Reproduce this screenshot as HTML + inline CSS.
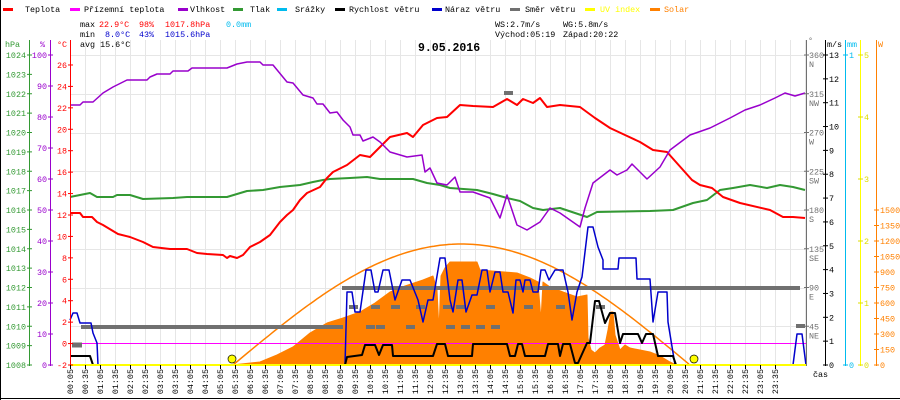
<!DOCTYPE html>
<html><head><meta charset="utf-8"><style>
html,body{margin:0;padding:0;background:#fff;width:900px;height:400px;overflow:hidden}
svg{display:block}
text{font-family:"Liberation Mono",monospace;font-size:8.4px}
</style></head><body>
<svg id="s" width="900" height="400" xmlns="http://www.w3.org/2000/svg"></svg>
<script>
var o='';
function L(x1,y1,x2,y2,c,w){o+='<line x1="'+x1+'" y1="'+y1+'" x2="'+x2+'" y2="'+y2+'" stroke="'+c+'" stroke-width="'+(w||1)+'"/>';}
function T(x,y,t,c,a,extra){o+='<text x="'+x+'" y="'+y+'" fill="'+(c||'#000')+'"'+(a?' text-anchor="'+a+'"':'')+(extra||'')+'>'+t+'</text>';}
function P(pts,c,w,fill){var s=[];for(var i=0;i<pts.length;i+=2)s.push(pts[i]+','+pts[i+1]);o+='<polyline points="'+s.join(' ')+'" fill="'+(fill||'none')+'" stroke="'+c+'" stroke-width="'+w+'" stroke-linejoin="round"/>';}
// grid
for(var x=70;x<=806;x+=15)L(x+.5,40,x+.5,365,'#e6e6e6');
for(var i=0;i<=8;i++){var y=Math.round(365-i*38.75)+.5;L(70,y,806,y,'#e6e6e6');}
// solar fill
var sol=[232,365,260,362,277,355,293,347,310,333,327,323,343,318,360,312,375,303,390,292,405,286,423,280,433,276,437,290,439,330,441,276,445,268,450,262,477,262,480,270,517,273,530,278,538,282,541,320,543,282,550,287,563,292,577,297,587,295,588,338,591,350,595,353,600,348,605,345,608,330,611,312,613,312,615,335,620,350,625,345,630,348,640,350,650,352,660,356,670,362,676,365];
P(sol,'#ff8000',1,'#ff8000');
// theoretical solar
var sc=[];for(var x=233;x<=690;x+=3){sc.push(x,(365-121*Math.sin(Math.PI*(x-233)/457)).toFixed(1));}
P(sc,'#ff8000',1.5);
// zero line feels-like (0°C)
L(70,343.5,806,343.5,'#ff00ff',1);
// wind direction gray
L(81,327,343,327,'#707070',4);L(72,345,82,345,'#707070',5);
L(345,288,800,288,'#707070',4);
[[346,288],[353,307],[375,307],[395,307],[420,307],[447,307],[460,307],[490,307],[528,307],[560,307],[600,307],[331,327],[370,327],[380,327],[410,327],[450,327],[465,327],[480,327],[495,327],[508,93],[800,326]].forEach(function(p){L(p[0]-4,p[1],p[0]+5,p[1],'#707070',4);});
// pressure
P([70,197,90,193,97,197,113,197,117,195,130,195,143,199,173,198,187,197,227,197,247,191,263,190,280,187,300,185,313,182,323,180,330,179,350,178,367,177,380,179,413,179,427,183,440,185,450,188,477,190,493,194,507,198,520,201,533,208,543,210,560,208,587,217,597,212,650,211,673,210,693,203,707,200,720,190,733,188,750,185,767,188,780,185,793,187,805,190],'#339933',2);
// temperature
P([70,213,80,213,83,217,92,217,97,222,103,225,108,228,118,234,130,237,143,242,153,247,170,249,187,249,197,253,207,254,223,255,227,258,230,256,237,258,243,255,250,247,260,242,270,235,280,222,287,215,293,210,300,200,307,193,320,187,327,178,333,172,347,165,360,155,370,157,380,147,390,137,407,133,413,137,423,125,437,118,447,117,460,105,473,106,493,107,507,99,517,105,523,99,533,103,540,98,547,107,560,105,580,107,595,118,610,128,625,135,640,142,653,150,667,152,692,180,700,185,712,188,723,197,740,203,770,210,783,217,793,217,805,218],'#ff0000',2);
// humidity
P([70,105,80,105,83,102,93,102,103,93,113,87,127,80,147,80,150,77,157,74,170,74,173,71,188,71,192,68,202,68,227,68,237,64,247,62,260,62,263,65,273,65,287,82,293,83,303,95,313,98,317,104,323,104,330,113,337,112,343,120,350,127,353,135,360,135,363,141,373,137,380,142,390,152,407,157,422,155,425,172,430,168,437,183,447,185,455,177,460,192,473,192,490,198,500,218,507,195,517,225,527,230,540,222,550,208,560,213,580,227,585,208,593,183,610,170,617,175,627,170,632,164,647,179,660,167,670,150,690,135,710,128,730,118,745,110,760,105,775,98,785,93,795,96,805,93],'#9900cc',1.5);
// gust
P([70,320,73,313,77,313,80,323,91,323,93,333,97,343,98,365,345,365,347,292,352,292,355,312,360,312,366,270,371,270,375,292,378,292,383,270,389,270,395,300,402,280,410,280,418,300,423,322,428,300,433,300,440,258,445,258,450,300,453,312,458,280,462,280,466,312,472,295,477,295,482,270,487,270,490,292,495,272,500,272,503,292,508,292,513,313,516,280,520,280,523,292,525,280,530,280,533,292,538,292,541,270,545,270,549,280,555,270,563,270,568,292,572,320,577,292,582,277,588,227,593,227,598,247,603,260,603,269,618,269,619,258,636,258,637,279,650,279,653,322,658,292,667,292,668,322,675,365,793,365,797,334,802,334,806,365],'#0000cc',1.5);
// wind speed
P([70,356,90,356,93,365,345,365,347,357,362,355,365,345,375,345,379,355,383,345,392,345,393,356,433,356,437,344,445,344,448,356,472,356,473,344,507,344,510,356,515,356,518,344,522,344,525,356,545,356,548,344,558,344,560,356,563,344,570,344,575,363,578,363,587,343,590,343,595,301,599,301,605,323,610,313,615,313,620,343,623,334,638,334,642,343,646,334,653,334,658,356,673,356,676,365],'#000',2);
// baseline UV
L(70,365,806,365,'#ffff00',2);
o+='<circle cx="232" cy="359" r="4" fill="#ffff00" stroke="#000" stroke-width=".7"/><circle cx="694" cy="359" r="4" fill="#ffff00" stroke="#000" stroke-width=".7"/>';
// left axes
L(29.5,40,29.5,366,'#339933');L(50.5,40,50.5,366,'#9900cc');L(70.5,40,70.5,366,'#ff0000');
for(var i=0;i<=16;i++){var y=365-i*19.375;L(27,y,32,y,'#339933');T(26,y+3,1008+i,'#339933','end');}
for(var i=0;i<=10;i++){var y=365-i*31;L(48,y,53,y,'#9900cc');T(47,y+3,i*10,'#9900cc','end');}
for(var i=0;i<=14;i++){var y=365-i*21.43;L(68,y,73,y,'#ff0000');T(67,y+3,-2+i*2,'#ff0000','end');}
T(5,47,'hPa','#339933');T(40,47,'%','#9900cc');T(57,47,'°C','#ff0000');
// right axes
L(806.5,40,806.5,366,'#707070');L(825.5,40,825.5,366,'#000');L(845.5,40,845.5,366,'#00bbee');L(860.5,40,860.5,366,'#ffff00');L(876.5,40,876.5,366,'#ff8000');
var dn=['','NE','E','SE','S','SW','W','NW','N'];
for(var i=1;i<=8;i++){var y=365-i*45*0.8611;L(804,y,809,y,'#707070');T(809,y+3,i*45,'#707070');T(809,y+12,dn[i],'#707070');}
for(var i=0;i<=13;i++){var y=365-i*23.846;L(823,y,828,y,'#000');T(829,y+3,i,'#000');}
L(843,55,848,55,'#00bbee');T(849,58,'1','#00bbee');L(843,365,848,365,'#00bbee');T(849,368,'0','#00bbee');
for(var i=0;i<=5;i++){var y=365-i*62;L(858,y,863,y,'#dddd00');T(864,y+3,i,'#dddd00');}
for(var i=0;i<=10;i++){var y=365-i*15.5;L(874,y,879,y,'#ff8000');T(880,y+3,i*150,'#ff8000');}
T(808,43,'°','#707070');T(827,47,'m/s','#000');T(847,47,'mm','#00bbee');T(878,47,'W','#ff8000');
// time axis
for(var k=0;k<48;k++){var x=70+k*15;L(x+.5,365,x+.5,369,'#000');var m=5+30*k,h=Math.floor(m/60),mm=m%60;var s=(h<10?'0':'')+h+':'+(mm<10?'0':'')+mm;o+='<text transform="translate('+(x+3)+',369) rotate(-90)" text-anchor="end" fill="#000">'+s+'</text>';}
T(813,377,'čas','#000');
// legend
var lg=[[3,25,'#ff0000','Teplota'],[70,84,'#ff00ff','Přízemní teplota'],[178,190,'#9900cc','Vlhkost'],[233,250,'#339933','Tlak'],[277,295,'#00bbee','Srážky'],[335,349,'#000','Rychlost větru'],[432,445,'#0000cc','Náraz větru'],[510,525,'#707070','Směr větru'],[585,600,'#ffff00','UV index'],[650,664,'#ff8000','Solar']];
lg.forEach(function(l){L(l[0],9.5,l[0]+10,9.5,l[2],3);T(l[1],12,l[3],l[3]=='UV index'?'#ffff00':(l[3]=='Solar'?'#ff8000':'#000'));});
T(80,27,'max');T(99,27,'22.9°C','#ff0000');T(139,27,'98%','#ff0000');T(165,27,'1017.8hPa','#ff0000');T(226,27,'0.0mm','#00bbee');
T(80,37,'min');T(105,37,'8.0°C','#0000cc');T(139,37,'43%','#0000cc');T(165,37,'1015.6hPa','#0000cc');
T(80,47,'avg 15.6°C');
T(495,27,'WS:2.7m/s');T(563,27,'WG:5.8m/s');T(495,37,'Východ:05:19');T(563,37,'Západ:20:22');
o+='<text x="418" y="51" style="font-size:11.5px;font-weight:bold" fill="#000">9.05.2016</text>';
// frame
L(0.5,0,0.5,400,'#000');L(0,398.5,900,398.5,'#000');
document.getElementById('s').innerHTML=o;
</script>
</body></html>
